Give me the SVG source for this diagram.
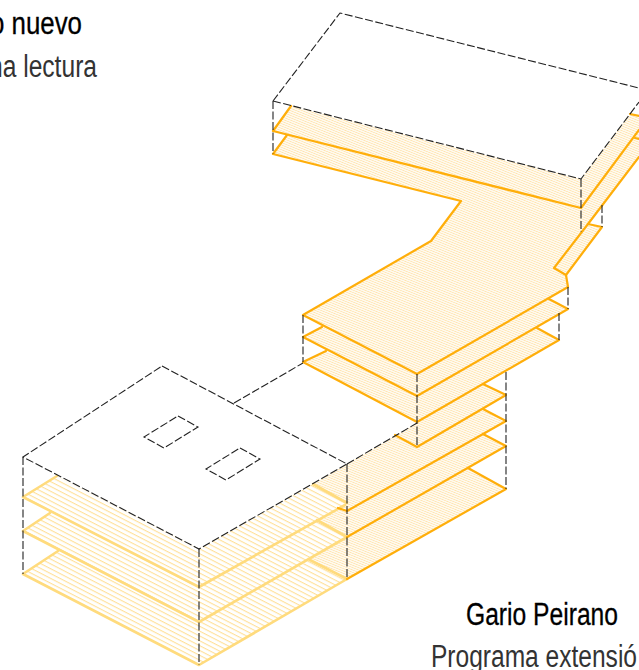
<svg xmlns="http://www.w3.org/2000/svg" width="639" height="670" viewBox="0 0 639 670">
<style>
.f{fill:url(#dense);stroke:none}
.l{fill:url(#coarse);stroke:none}
.o{fill:none;stroke:#ffae0a;stroke-width:2.2;stroke-linejoin:round;stroke-linecap:round}
.y{fill:none;stroke:#ffdb7d;stroke-width:2.6;stroke-linejoin:round;stroke-linecap:round}
.d{fill:none;stroke:#222;stroke-width:1.1;stroke-dasharray:8 2.5}
.n{font-family:"Liberation Sans",Arial,sans-serif;font-size:31px;fill:#000;stroke:#000;stroke-width:.3}
.s{font-family:"Liberation Sans",Arial,sans-serif;font-size:31px;fill:#333}
</style>
<defs>
<pattern id="dense" width="2.2" height="2.2" patternUnits="userSpaceOnUse" patternTransform="rotate(22)">
<rect width="2.2" height="2.2" fill="#fffaf0"/>
<rect width="2.2" height="0.7" fill="#ffe3ab"/>
</pattern>
<pattern id="coarse" width="8" height="4.3" patternUnits="userSpaceOnUse" patternTransform="rotate(27.3)">
<rect width="8" height="4.3" fill="#fff"/>
<rect width="8" height="1.1" fill="#ffe09a"/>
</pattern>
</defs>
<rect width="639" height="670" fill="#fff"/>

<g id="block-lower">
<polygon class="f" points="347,464 417,423 483,384 506,395 483,409 506,421 483,434 506,446 468,468 506,489 347,579"/>
<polygon class="f" points="313,484 347,464 347,503"/>
<polygon class="f" points="317,520 347,503 347,537"/>
<polygon class="f" points="310,560 347,537 347,579"/>
<polygon class="l" points="57,476 23,497 199,587 345,507 347,503 313,484 199,549"/>
<polygon class="l" points="50,513 23,531 199,622 347,537 317,520 199,587"/>
<polygon class="l" points="58,551 23,574 199,665 347,579 310,560 199,622"/>
<polyline class="y" points="57,476 23,497 199,587 345,505"/>
<polyline class="y" points="50,513 23,531 199,622 347,537"/>
<polyline class="y" points="58,551 23,574 199,665 347,579"/>
<line class="y" x1="313" y1="484" x2="347" y2="503"/>
<line class="y" x1="317" y1="520" x2="347" y2="537"/>
<line class="y" x1="310" y1="560" x2="347" y2="579"/>
<polyline class="o" points="395,435 417,447 506,395 483,384"/>
<polyline class="o" points="338,508 347,511 506,421 483,409"/>
<polyline class="o" points="347,537 506,446 483,434"/>
<polyline class="o" points="347,579 506,489 468,468"/>
</g>

<g id="block-middle">
<polygon class="f" points="322,327 303,337 417,396 568,309 549,299 417,374"/>
<polygon class="f" points="326,351 303,362 417,422 559,340 537,328 417,396"/>
<polyline class="o" points="322,327 303,337 417,396 568,309 549,299"/>
<polyline class="o" points="326,351 303,362 417,422 559,340 537,328"/>
</g>

<g id="block-upper">
<polygon class="f" points="287,135 273,154 461,201 431,241 303,315 417,374 568,287 566,275 602,227 588,224 639,157 639,130 581,208"/>
<polygon class="f" points="291,106 273,131 581,208 639,130 639,116 630,114 581,179"/>
<polyline class="o" points="291,106 273,131 581,208 639,130"/>
<polyline class="o" points="287,135 273,154 461,201 431,241 303,315 417,374 568,287 566,275 554,268 588,224"/>
<polyline class="o" points="588,224 602,227 566,275"/>
<line class="o" x1="588" y1="224" x2="639" y2="157"/>
<line class="o" x1="630" y1="114" x2="639" y2="116"/>
<line class="o" x1="635" y1="138" x2="639" y2="139"/>
</g>

<g id="connectors">
<polygon class="d" points="162,366 347,464 199,549 23,457"/>
<polygon class="d" points="178,416 198,427 164,448 144,437"/>
<polygon class="d" points="240,448 260,459 226,480 206,469"/>
<line class="d" x1="23" y1="457" x2="23" y2="574"/>
<line class="d" x1="199" y1="549" x2="199" y2="665"/>
<line class="d" x1="347" y1="464" x2="347" y2="579"/>
<line class="d" x1="347" y1="464" x2="417" y2="423"/>
<line class="d" x1="234" y1="403" x2="303" y2="363"/>
<line class="d" x1="303" y1="315" x2="303" y2="362"/>
<line class="d" x1="417" y1="374" x2="417" y2="447"/>
<line class="d" x1="506" y1="372" x2="506" y2="489"/>
<line class="d" x1="559" y1="313" x2="559" y2="340"/>
<line class="d" x1="568" y1="287" x2="568" y2="309"/>
<polyline class="d" points="273,101 340,13 639,88"/>
<polyline class="d" points="273,101 581,179 639,102"/>
<line class="d" x1="273" y1="101" x2="273" y2="154"/>
<line class="d" x1="581" y1="179" x2="581" y2="232"/>
<line class="d" x1="602" y1="205" x2="602" y2="227"/>
</g>

<g id="labels">
<text class="n" x="-10" y="34" textLength="92" lengthAdjust="spacingAndGlyphs">o nuevo</text>
<text class="s" x="-11" y="77" textLength="108" lengthAdjust="spacingAndGlyphs">na lectura</text>
<text class="n" x="466" y="625" textLength="152" lengthAdjust="spacingAndGlyphs">Gario Peirano</text>
<text class="s" x="431" y="667" textLength="206" lengthAdjust="spacingAndGlyphs">Programa extensió</text>
</g>
</svg>
